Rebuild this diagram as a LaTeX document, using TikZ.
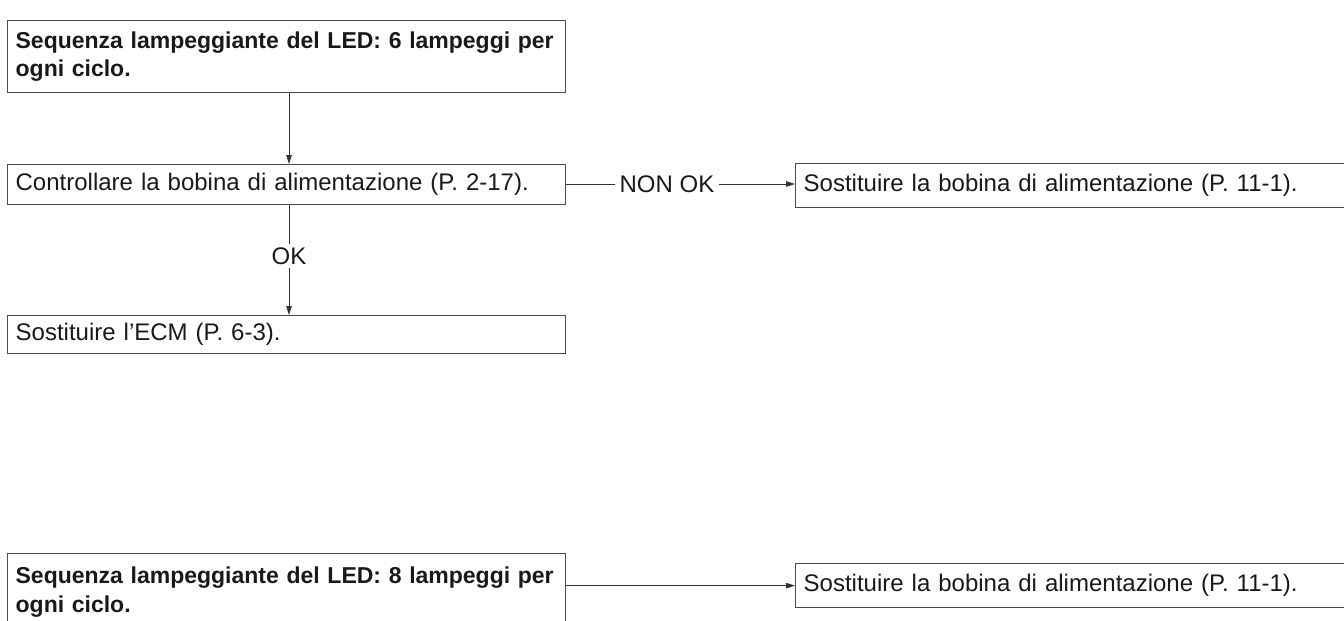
\documentclass[tikz,border=0pt]{standalone}
\usepackage{fontspec}
\setmainfont{Liberation Sans}
\usetikzlibrary{arrows.meta}
\begin{document}
\begin{tikzpicture}[x=1pt,y=-1pt,
  font=\fontsize{24}{28.5}\selectfont,
  boxstyle/.style={draw=black!70, line width=1.3pt, rectangle, anchor=north west,
    inner xsep=8pt, inner ysep=0pt, text=black!90, align=left},
  lbox/.style={boxstyle, text width=542pt, minimum width=558pt},
  rbox/.style={boxstyle, text width=541pt, minimum width=557pt},
  boldtext/.style={font=\fontsize{23}{28.5}\selectfont\bfseries},
  conn/.style={draw=black!80, line width=0.9pt},
  arr/.style={conn, -{Triangle[length=9pt,width=5.5pt]}},
  lbl/.style={inner xsep=4pt, inner ysep=4pt, text=black!90}
]
\useasboundingbox (0,0) rectangle (1344,621);
\clip (0,0) rectangle (1344,621);

\node[lbox, boldtext, minimum height=72pt] (b1) at (7,20)
  {\mbox{Sequenza lampeggiante del LED: 6 lampeggi per}\\ogni ciclo.};
\node[lbox, minimum height=40pt] (b2) at (7,164)
  {Controllare la bobina di alimentazione (P. 2-17).};
\node[rbox, minimum height=44pt] (r1) at (795,163)
  {Sostituire la bobina di alimentazione (P. 11-1).};
\node[lbox, minimum height=38pt] (b3) at (7,315)
  {Sostituire l’ECM (P. 6-3).};
\node[lbox, boldtext, minimum height=77pt] (b4) at (7,553)
  {\mbox{Sequenza lampeggiante del LED: 8 lampeggi per}\\ogni ciclo.};
\node[rbox, minimum height=44pt] (r2) at (795,563)
  {Sostituire la bobina di alimentazione (P. 11-1).};

\node[lbl] (nonok) at (667,184) {NON OK};
\node[lbl, inner ysep=3pt] (ok) at (289,256) {OK};

\draw[arr] (ok.north |- b1.south) -- (ok.north |- b2.north);
\draw[conn] (ok.north |- b2.south) -- (ok.north);
\draw[arr] (ok.south) -- (ok.south |- b3.north);
\draw[conn] (b2.east |- nonok.west) -- (nonok.west);
\draw[arr] (nonok.east) -- (r1.west |- nonok.east);
\draw[arr] (b4.east |- r2.west) -- (r2.west);
\end{tikzpicture}
\end{document}
